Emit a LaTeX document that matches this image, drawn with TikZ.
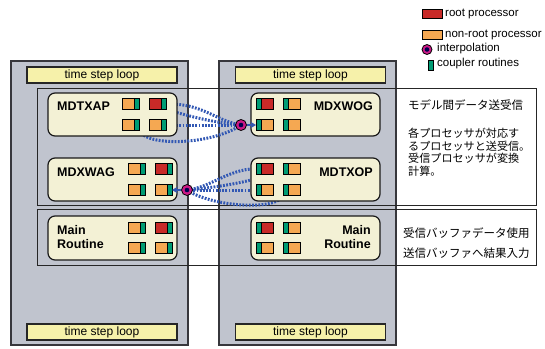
\documentclass[tikz,border=0pt]{standalone}
\usepackage{fontspec}
\setmainfont{Liberation Sans}
\newfontfamily\jpfont{Noto Sans CJK JP}
\usetikzlibrary{arrows.meta}

\definecolor{panelgray}{RGB}{192,196,206}
\definecolor{loopyellow}{RGB}{246,241,170}
\definecolor{boxcream}{RGB}{243,241,213}
\definecolor{cred}{RGB}{200,42,40}
\definecolor{corange}{RGB}{245,168,82}
\definecolor{cgreen}{RGB}{0,156,116}
\definecolor{cblue}{RGB}{50,88,180}
\definecolor{cmag}{RGB}{205,25,135}
\definecolor{edgegray}{RGB}{55,55,60}

\pgfdeclarelayer{bg}
\pgfdeclarelayer{mid}
\pgfsetlayers{bg,mid,main}

\tikzset{
  panel/.style={draw=edgegray, line width=1.3pt, fill=panelgray},
  frame/.style={draw=black!85, line width=1pt},
  tsl/.style={draw=black!85, line width=1.1pt, fill=loopyellow, minimum width=150pt,
    minimum height=16pt, inner sep=0pt, font=\fontsize{12}{12}\selectfont,
    text height=8.6pt, text depth=2.4pt},
  modbox/.style={draw=black!90, line width=1.2pt, fill=boxcream, rounded corners=7pt,
    minimum width=129pt, inner sep=0pt},
  lbl/.style={font=\fontsize{12.5}{13}\selectfont\bfseries, inner sep=0pt},
  proc/.style={draw=black, line width=0.9pt, minimum width=17pt, minimum height=11pt,
    inner sep=0pt, outer sep=0pt},
  stripR/.style={path picture={
      \fill[cgreen] ([xshift=-5pt]path picture bounding box.south east) rectangle (path picture bounding box.north east);
      \draw[line width=0.9pt] ([xshift=-5pt]path picture bounding box.south east) -- ([xshift=-5pt]path picture bounding box.north east);}},
  stripL/.style={path picture={
      \fill[cgreen] ([xshift=5pt]path picture bounding box.south west) rectangle (path picture bounding box.north west);
      \draw[line width=0.9pt] ([xshift=5pt]path picture bounding box.south west) -- ([xshift=5pt]path picture bounding box.north west);}},
  rootR/.style={proc, fill=cred, stripR},
  nonrootR/.style={proc, fill=corange, stripR},
  rootL/.style={proc, fill=cred, stripL},
  nonrootL/.style={proc, fill=corange, stripL},
  interp/.style={circle, draw=black, line width=0.8pt, fill=cmag, minimum size=11pt,
    inner sep=0pt, path picture={
      \fill[black!70!blue] (path picture bounding box.center) circle (2.3pt);}},
  link/.style={draw=cblue, line width=3pt, dash pattern=on 1.8pt off 1.4pt},
  feed/.style={draw=cblue, line width=1.8pt, -{Stealth[length=5.5pt,width=6.5pt]}},
  jp/.style={font=\jpfont\fontsize{11.5}{12}\selectfont, inner sep=0pt, anchor=west},
  jpsmall/.style={font=\jpfont\fontsize{11.1}{12}\selectfont, inner sep=0pt, anchor=west},
  lgtext/.style={font=\fontsize{11.5}{12}\selectfont, inner sep=0pt, anchor=west}
}

\begin{document}
\begin{tikzpicture}[x=1pt,y=-1pt]
\useasboundingbox (0,0) rectangle (545,348);

% ---------- the two model panels and the coupling frames ----------
\begin{pgfonlayer}{bg}
  \fill[white] (0,0) rectangle (545,348);
  \draw[panel] (11,61) rectangle (188,345);
  \draw[panel] (219,61) rectangle (396,345);
  \draw[frame] (37,88) rectangle (536,205);
  \draw[frame] (37,209) rectangle (536,265);
\end{pgfonlayer}

% time step loop bars
\node[tsl] (tsl-lt) at (102,75) {time step loop};
\node[tsl] (tsl-rt) at (310.5,75) {time step loop};
\node[tsl] (tsl-lb) at (102,332) {time step loop};
\node[tsl] (tsl-rb) at (310.5,332) {time step loop};

% component boxes
\node[modbox, minimum height=43pt] (box-ap) at (112.5,114.5) {};
\node[modbox, minimum height=43pt] (box-ag) at (112.5,179.5) {};
\node[modbox, minimum height=44pt] (box-ml) at (112.5,238) {};
\node[modbox, minimum height=43pt] (box-og) at (315.5,114.5) {};
\node[modbox, minimum height=43pt] (box-op) at (315.5,179.5) {};
\node[modbox, minimum height=44pt] (box-mr) at (315.5,238) {};

% box labels
\node[lbl, anchor=west] (t-ap) at (57,106.5) {MDTXAP};
\node[lbl, anchor=west] (t-ag) at (57,172) {MDXWAG};
\node[lbl, anchor=west] (t-ml1) at (57,230) {Main};
\node[lbl, anchor=west] (t-ml2) at (57,244.5) {Routine};
\node[lbl, anchor=east] (t-og) at (373,106.5) {MDXWOG};
\node[lbl, anchor=east] (t-op) at (373,172) {MDTXOP};
\node[lbl, anchor=east] (t-mr1) at (371,230) {Main};
\node[lbl, anchor=east] (t-mr2) at (371,244.5) {Routine};

% processors, left model
\node[nonrootR] (ap11) at (131,104) {};
\node[rootR]    (ap12) at (158,104) {};
\node[nonrootR] (ap21) at (131,125) {};
\node[nonrootR] (ap22) at (158,125) {};
\node[nonrootR] (ag11) at (137,168.5) {};
\node[rootR]    (ag12) at (163.5,168.5) {};
\node[nonrootR] (ag21) at (137,190) {};
\node[nonrootR] (ag22) at (163.5,190) {};
\node[nonrootR] (ml11) at (137,227.5) {};
\node[rootR]    (ml12) at (163.5,227.5) {};
\node[nonrootR] (ml21) at (137,248) {};
\node[nonrootR] (ml22) at (163.5,248) {};

% processors, right model
\node[rootL]    (og11) at (264.5,104) {};
\node[nonrootL] (og12) at (291.5,104) {};
\node[nonrootL] (og21) at (264.5,125) {};
\node[nonrootL] (og22) at (291.5,125) {};
\node[rootL]    (op11) at (264.5,168.5) {};
\node[nonrootL] (op12) at (291.5,168.5) {};
\node[nonrootL] (op21) at (264.5,190) {};
\node[nonrootL] (op22) at (291.5,190) {};
\node[rootL]    (mr11) at (264.5,227.5) {};
\node[nonrootL] (mr12) at (291.5,227.5) {};
\node[nonrootL] (mr21) at (264.5,248) {};
\node[nonrootL] (mr22) at (291.5,248) {};

% interpolation points
\node[interp] (ip1) at (241,125) {};
\node[interp] (ip2) at (187,190) {};

% data exchange between processors
\begin{pgfonlayer}{mid}
  \draw[link] (ap12.east) .. controls (202,103) and (216,121) .. (ip1.center);
  \draw[link] (ap11.east) .. controls (165,107) and (195,121) .. (ip1.center);
  \draw[link] (ap22.east) -- (ip1.center);
  \draw[link] (ap21.south east) .. controls (146,147) and (212,145) .. (ip1.center);

  \draw[link] (op11.west) .. controls (226,170) and (212,187) .. (ip2.center);
  \draw[link] (op12.west) .. controls (266,178) and (232,186) .. (ip2.center);
  \draw[link] (op21.west) -- (ip2.center);
  \draw[link] (op22.south west) .. controls (277,211) and (212,207) .. (ip2.center);
\end{pgfonlayer}
\draw[feed] (ip1.east) -- (og21.west);
\draw[feed] (ip2.west) -- (ag22.east);

% explanatory notes
\node[jp] (n1) at (408,105) {モデル間データ送受信};
\node[jpsmall] (n2) at (408,133) {各プロセッサが対応す};
\node[jpsmall] (n3) at (408,146) {るプロセッサと送受信。};
\node[jpsmall] (n4) at (408,158.5) {受信プロセッサが変換};
\node[jpsmall] (n5) at (408,171) {計算。};
\node[jp] (n6) at (403,233) {受信バッファデータ使用};
\node[jp] (n7) at (403,253) {送信バッファへ結果入力};

% legend
\node[proc, fill=cred, minimum width=20pt, minimum height=9pt] (lg-root) at (432,13.5) {};
\node[lgtext] (lg-root-t) at (445,13.5) {root processor};
\node[proc, fill=corange, minimum width=20pt, minimum height=9pt] (lg-nonroot) at (432,35) {};
\node[lgtext] (lg-nonroot-t) at (445,34.5) {non-root processor};
\node[interp, minimum size=10pt] (lg-ip) at (427,49.5) {};
\node[lgtext] (lg-ip-t) at (437,48.5) {interpolation};
\node[proc, fill=cgreen, minimum width=4.5pt, minimum height=10pt, line width=0.8pt] (lg-cpl) at (431,65) {};
\node[lgtext] (lg-cpl-t) at (437,64) {coupler routines};
\end{tikzpicture}
\end{document}
